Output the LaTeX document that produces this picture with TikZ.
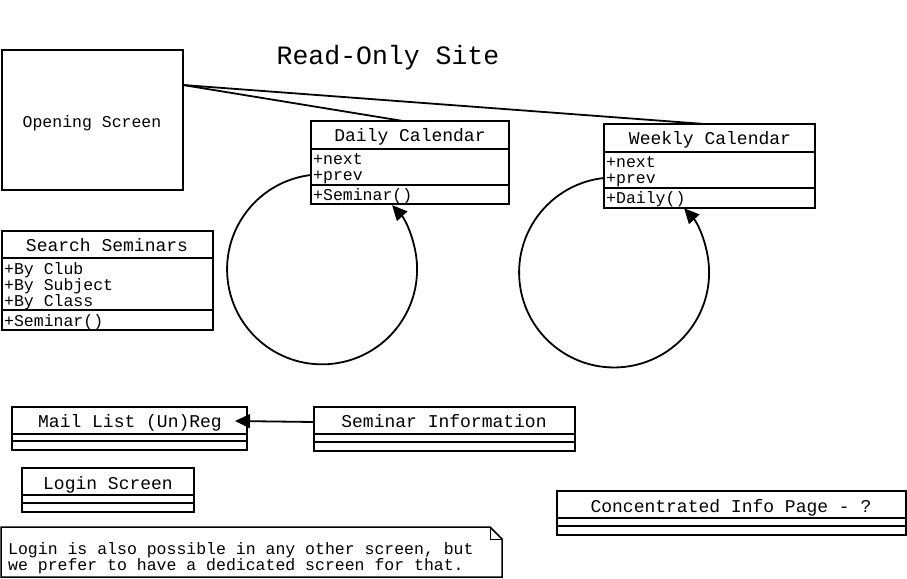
\documentclass[tikz,border=0pt]{standalone}
\usepackage{fontspec}
\setmonofont{Liberation Mono}
\usetikzlibrary{arrows.meta,calc}
\begin{document}
\begin{tikzpicture}[x=1pt,y=-1pt,
  box/.style={draw, line width=1.8pt, anchor=north west, inner sep=0pt, outer sep=0pt},
  sep/.style={line width=1.8pt},
  hdr/.style={font=\ttfamily\fontsize{18}{18}\selectfont, inner sep=0pt, anchor=base},
  attr/.style={font=\ttfamily\fontsize{16.5}{16}\selectfont, anchor=base west, inner sep=0pt},
  conn/.style={line width=1.8pt},
  tip/.style={-{Triangle[length=15pt,width=14pt]}}]
\useasboundingbox (0,0) rectangle (907,578);
\fill[white] (0,0) rectangle (907,578);

% title
\node[font=\ttfamily\fontsize{26.5}{26.5}\selectfont, inner sep=0pt, anchor=base] (title) at (388,64) {Read-Only Site};

% Opening screen
\node[box, minimum width=181pt, minimum height=140pt] (open) at (2,50) {};
\node[font=\ttfamily\fontsize{16.5}{16.5}\selectfont, inner sep=0pt, anchor=base] (opentxt) at (92,127) {Opening Screen};

% Daily calendar
\node[box, minimum width=198pt, minimum height=83pt] (daily) at (311,121) {};
\draw[sep] (311,149) -- (509,149) (311,185) -- (509,185);
\node[hdr] (dailyh) at (410,141) {Daily Calendar};
\node[attr] (dn) at (313,164) {+next};
\node[attr] (dp) at (313,180) {+prev};
\node[attr] (dm) at (313,200) {+Seminar()};

% Weekly calendar
\node[box, minimum width=211pt, minimum height=84pt] (weekly) at (604,124) {};
\draw[sep] (604,152) -- (815,152) (604,188) -- (815,188);
\node[hdr] (weeklyh) at (710,144) {Weekly Calendar};
\node[attr] (wn) at (606,167) {+next};
\node[attr] (wp) at (606,183) {+prev};
\node[attr] (wm) at (606,203) {+Daily()};

% Search seminars
\node[box, minimum width=211pt, minimum height=99pt] (search) at (2,231) {};
\draw[sep] (2,258) -- (213,258) (2,310) -- (213,310);
\node[hdr] (searchh) at (107,251) {Search Seminars};
\node[attr] (s1) at (4,274) {+By Club};
\node[attr] (s2) at (4,290) {+By Subject};
\node[attr] (s3) at (4,306) {+By Class};
\node[attr] (s4) at (4,326) {+Seminar()};

% Mail list
\node[box, minimum width=235pt, minimum height=43pt] (mail) at (12,407) {};
\draw[sep] (12,434) -- (247,434) (12,441) -- (247,441);
\node[hdr] (mailh) at (130,427) {Mail List (Un)Reg};

% Seminar information
\node[box, minimum width=261pt, minimum height=44pt] (seminfo) at (314,407) {};
\draw[sep] (314,434) -- (575,434) (314,442) -- (575,442);
\node[hdr] (seminfoh) at (444,427) {Seminar Information};

% Login screen
\node[box, minimum width=172pt, minimum height=44pt] (login) at (22,468) {};
\draw[sep] (22,495) -- (194,495) (22,503) -- (194,503);
\node[hdr] (loginh) at (108,489) {Login Screen};

% Concentrated info page
\node[box, minimum width=349pt, minimum height=44pt] (conc) at (557,491) {};
\draw[sep] (557,518) -- (906,518) (557,526) -- (906,526);
\node[hdr] (conch) at (731,512) {Concentrated Info Page - ?};

% Note
\draw[line width=1.5pt, fill=white] (1,527) -- (490,527) -- (502,539) -- (502,577) -- (1,577) -- cycle;
\draw[line width=1pt] (490,527) -- (490,539) -- (502,539);
\node[attr] (note1) at (8,554) {Login is also possible in any other screen, but};
\node[attr] (note2) at (8,570) {we prefer to have a dedicated screen for that.};

% connectors
\draw[conn] ($(open.north east)+(0,35)$) -- ($(daily.north)+(-7,0)$);
\draw[conn] ($(open.north east)+(0,35)$) -- ($(weekly.north)+(-5,0)$);
\draw[conn, tip] ($(daily.north west)+(0,54)$) arc[start angle=-96.7, end angle=-402.5, radius=95];
\draw[conn, tip] ($(weekly.north west)+(0,54)$) arc[start angle=-96.1, end angle=-402.5, radius=95];
\draw[conn, tip] ($(seminfo.north west)+(0,15)$) -- ($(mail.north east)+(-12,14)$);
\end{tikzpicture}
\end{document}
